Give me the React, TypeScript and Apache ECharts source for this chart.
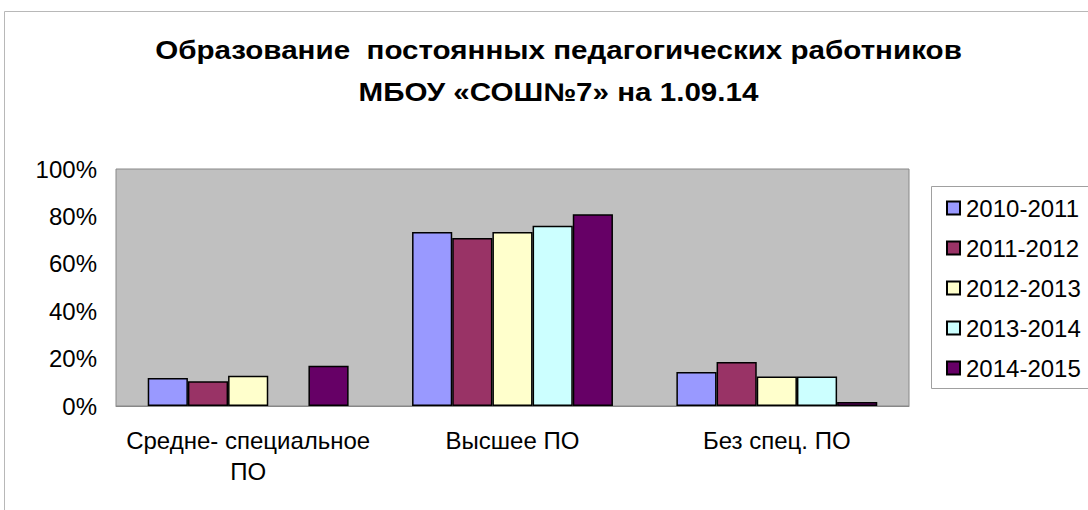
import React, { useEffect, useRef } from "react";
import * as echarts from "echarts";

const categories = ["Средне- специальное\nПО", "Высшее ПО", "Без спец. ПО"];
const seriesNames = ["2010-2011", "2011-2012", "2012-2013", "2013-2014", "2014-2015"];
const s2010 = [11.8, 73.4, 14.3];
const s2011 = [10.4, 70.9, 18.6];
const s2012 = [12.8, 73.4, 12.5];
const s2013: (number | string)[] = ["-", 76.1, 12.5];
const s2014 = [17.0, 80.9, 1.7];
const yTicks = [0, 20, 40, 60, 80, 100];
const colors = ["#9999ff", "#993366", "#ffffcc", "#ccffff", "#660066"];
const titleLines = ["Образование  постоянных педагогических работников", "МБОУ «СОШ№7» на 1.09.14"];

export default function App() {
  const ref = useRef<HTMLDivElement>(null);
  useEffect(() => {
    if (!ref.current) return;
    const chart = echarts.init(ref.current, null, { renderer: "svg" });
    const all = [s2010, s2011, s2012, s2013, s2014];
    const font = "'Liberation Sans', Arial, sans-serif";
    chart.setOption({
      animation: false,
      textStyle: { fontFamily: font },
      graphic: [
        { type: "rect", shape: { x: 4.5, y: 11.5, width: 1200, height: 600 }, style: { fill: "none", stroke: "#b8b8b8", lineWidth: 1 }, silent: true, z: -10 },
        { type: "rect", shape: { x: 931.5, y: 186.5, width: 200, height: 202 }, style: { fill: "#fff", stroke: "#a0a0a0", lineWidth: 1 }, silent: true, z: -5 },
        {
          type: "text",
          x: 558.5,
          y: 50,
          scaleX: 1.16,
          originX: 0,
          style: { text: titleLines[0], font: "bold 25.5px " + font, fill: "#000", align: "center", verticalAlign: "middle" },
        },
        {
          type: "text",
          x: 558.5,
          y: 92,
          scaleX: 1.16,
          originX: 0,
          style: { text: titleLines[1], font: "bold 25.5px " + font, fill: "#000", align: "center", verticalAlign: "middle" },
        },
      ],
      legend: {
        orient: "vertical",
        left: 941,
        top: 191,
        itemWidth: 13,
        itemHeight: 13,
        itemGap: 16,
        icon: "rect",
        textStyle: { fontSize: 24, color: "#000", fontFamily: font, padding: [0, 0, 0, 1] },
        data: seriesNames,
      },
      grid: {
        left: 116,
        top: 169,
        width: 793,
        height: 237,
        show: true,
        backgroundColor: "#c0c0c0",
        borderColor: "#888",
        borderWidth: 1,
      },
      xAxis: {
        type: "category",
        data: categories,
        axisLine: { show: true, lineStyle: { color: "#888" } },
        axisTick: { show: false },
        axisLabel: { interval: 0, fontSize: 24, color: "#000", margin: 19, lineHeight: 31, fontFamily: font },
      },
      yAxis: {
        type: "value",
        min: 0,
        max: 100,
        interval: 20,
        axisLine: { show: false },
        axisTick: { show: false },
        splitLine: { show: false },
        axisLabel: {
          fontSize: 24,
          color: "#000",
          margin: 19,
          fontFamily: font,
          formatter: (v: number) => (yTicks.includes(v) ? v + "%" : ""),
        },
      },
      series: seriesNames.map((name, i) => ({
        name,
        type: "bar",
        data: all[i],
        barGap: "0%",
        barCategoryGap: "24%",
        itemStyle: { color: colors[i], borderColor: "#000", borderWidth: 1.5 },
      })),
    });
    return () => chart.dispose();
  }, []);
  return <div ref={ref} style={{ position: "absolute", left: 0, top: 0, width: 1088, height: 510 }} />;
}
